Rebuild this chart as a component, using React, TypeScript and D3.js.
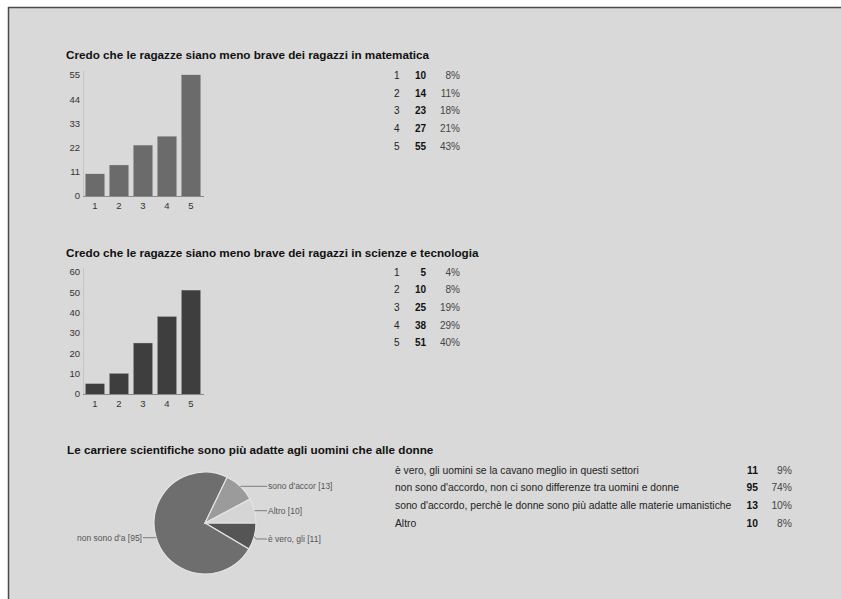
import React from "react";
import * as d3 from "d3";

const mathCategories = ["1", "2", "3", "4", "5"];
const mathValues = [10, 14, 23, 27, 55];
const mathPercents = ["8%", "11%", "18%", "21%", "43%"];
const mathTicks = [0, 11, 22, 33, 44, 55];

const sciCategories = ["1", "2", "3", "4", "5"];
const sciValues = [5, 10, 25, 38, 51];
const sciPercents = ["4%", "8%", "19%", "29%", "40%"];
const sciTicks = [0, 10, 20, 30, 40, 50, 60];

const pieLabels = [
  "è vero, gli uomini se la cavano meglio in questi settori",
  "non sono d'accordo, non ci sono differenze tra uomini e donne",
  "sono d'accordo, perchè le donne sono più adatte alle materie umanistiche",
  "Altro",
];
const pieShortLabels = ["è vero, gli  [11]", "non sono d'a [95]", "sono d'accor [13]", "Altro [10]"];
const pieValues = [11, 95, 13, 10];
const piePercents = ["9%", "74%", "10%", "8%"];
const pieColors = ["#555555", "#6e6e6e", "#9b9b9b", "#d5d5d5"];

const FONT = "'Liberation Sans', Arial, sans-serif";

type BarProps = {
  title: string;
  cats: string[];
  values: number[];
  percents: string[];
  ticks: number[];
  yMax: number;
  top: number;
  base: number;
  color: string;
  titleY: number;
  tableY: number;
};

function BarBlock(p: BarProps) {
  const x = d3.scaleBand<string>().domain(p.cats).range([83, 203]).paddingInner(0.22).paddingOuter(0.11);
  const y = d3.scaleLinear().domain([0, p.yMax]).range([p.base, p.top]);
  const rowStep = 17.7;
  return (
    <g>
      <text x={66} y={p.titleY} fontFamily={FONT} fontSize={11.7} fontWeight="bold" fill="#111">
        {p.title}
      </text>
      <line x1={83.5} x2={83.5} y1={p.top - 4} y2={p.base} stroke="#c4c4c4" strokeWidth={1} />
      {p.ticks.map((t) => (
        <text key={t} x={80} y={y(t)} dy="0.35em" textAnchor="end" fontFamily={FONT} fontSize={9.5} fill="#333">
          {t}
        </text>
      ))}
      {p.values.map((v, i) => (
        <rect
          key={i}
          x={x(p.cats[i])!}
          y={y(v)}
          width={x.bandwidth()}
          height={p.base - y(v)}
          fill={p.color}
          stroke="#555"
          strokeOpacity={0.4}
          strokeWidth={0.5}
        />
      ))}
      <line x1={83} x2={204} y1={p.base + 0.5} y2={p.base + 0.5} stroke="#8a8a8a" strokeWidth={1} />
      {p.cats.map((c) => (
        <text
          key={c}
          x={x(c)! + x.bandwidth() / 2}
          y={p.base + 10}
          dy="0.35em"
          textAnchor="middle"
          fontFamily={FONT}
          fontSize={9.5}
          fill="#333"
        >
          {c}
        </text>
      ))}
      {p.cats.map((c, i) => (
        <g key={"r" + i} fontFamily={FONT} fontSize={10}>
          <text x={394} y={p.tableY + i * rowStep} dy="0.35em" fill="#222">
            {c}
          </text>
          <text x={426} y={p.tableY + i * rowStep} dy="0.35em" textAnchor="end" fontWeight="bold" fill="#111">
            {p.values[i]}
          </text>
          <text x={460} y={p.tableY + i * rowStep} dy="0.35em" textAnchor="end" fill="#444">
            {p.percents[i]}
          </text>
        </g>
      ))}
    </g>
  );
}

function PieBlock() {
  const cx = 205;
  const cy = 523;
  const r = 51;
  const pie = d3
    .pie<number>()
    .sort(null)
    .startAngle(Math.PI / 2)
    .endAngle(Math.PI / 2 + 2 * Math.PI)
    .value((d) => d);
  const arcs = pie(pieValues);
  const arc = d3.arc<d3.PieArcDatum<number>>().innerRadius(0).outerRadius(r);
  const rowStep = 17.7;
  return (
    <g>
      <text x={67} y={454} fontFamily={FONT} fontSize={11.7} fontWeight="bold" fill="#111">
        Le carriere scientifiche sono più adatte agli uomini che alle donne
      </text>
      <g transform={`translate(${cx},${cy})`}>
        {arcs.map((a, i) => (
          <path key={i} d={arc(a)!} fill={pieColors[i]} stroke="#e4e4e4" strokeWidth={1.2} />
        ))}
        {arcs.map((a, i) => {
          const mid = (a.startAngle + a.endAngle) / 2;
          const px = Math.sin(mid) * r;
          const py = -Math.cos(mid) * r;
          const right = px > 0;
          const ex = right ? 62 : -62;
          const ly = right && py > 0 ? py + 2.5 : py;
          return (
            <g key={"l" + i}>
              <polyline
                points={`${px},${py} ${right ? px + 2 : px - 2},${ly} ${ex},${ly}`}
                fill="none"
                stroke="#666"
                strokeWidth={0.8}
              />
              <text
                x={right ? ex + 1 : ex - 1}
                y={ly}
                dy="0.35em"
                textAnchor={right ? "start" : "end"}
                fontFamily={FONT}
                fontSize={8.5}
                fill="#555"
              >
                {pieShortLabels[i]}
              </text>
            </g>
          );
        })}
      </g>
      {pieLabels.map((l, i) => (
        <g key={"t" + i} fontFamily={FONT} fontSize={10.3}>
          <text x={395} y={470 + i * rowStep} dy="0.35em" fill="#222">
            {l}
          </text>
          <text x={758} y={470 + i * rowStep} dy="0.35em" textAnchor="end" fontWeight="bold" fill="#111">
            {pieValues[i]}
          </text>
          <text x={792} y={470 + i * rowStep} dy="0.35em" textAnchor="end" fill="#444">
            {piePercents[i]}
          </text>
        </g>
      ))}
    </g>
  );
}

export default function App() {
  return (
    <div style={{ position: "absolute", left: 0, top: 0 }}>
      <svg width={841} height={599} style={{ display: "block" }}>
        <rect x={0} y={0} width={841} height={599} fill="#ffffff" />
        <rect x={8} y={7} width={833} height={592} fill="#d9d9d9" />
        <line x1={8} x2={841} y1={7.5} y2={7.5} stroke="#4a4a4a" strokeWidth={1.5} />
        <line x1={8.5} x2={8.5} y1={7} y2={599} stroke="#4a4a4a" strokeWidth={1.5} />
        <BarBlock
          title="Credo che le ragazze siano meno brave dei ragazzi in matematica"
          cats={mathCategories}
          values={mathValues}
          percents={mathPercents}
          ticks={mathTicks}
          yMax={55}
          top={75}
          base={196}
          color="#6b6b6b"
          titleY={59}
          tableY={75.5}
        />
        <BarBlock
          title="Credo che le ragazze siano meno brave dei ragazzi in scienze e tecnologia"
          cats={sciCategories}
          values={sciValues}
          percents={sciPercents}
          ticks={sciTicks}
          yMax={60}
          top={272}
          base={394}
          color="#3e3e3e"
          titleY={257}
          tableY={272}
        />
        <PieBlock />
      </svg>
    </div>
  );
}
